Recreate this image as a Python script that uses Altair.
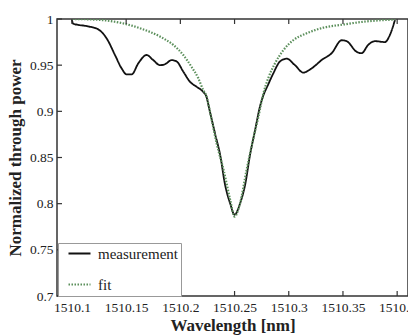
import altair as alt
import pandas as pd

meas_x = [1510.1000, 1510.1010, 1510.1150, 1510.1240, 1510.1320, 1510.1397, 1510.1458,
          1510.1505, 1510.1551, 1510.1612, 1510.1689, 1510.1750, 1510.1812, 1510.1858,
          1510.1920, 1510.1966, 1510.2027, 1510.2089, 1510.2150, 1510.2211, 1510.2240,
          1510.2270, 1510.2320, 1510.2370, 1510.2410, 1510.2460, 1510.2500, 1510.2550,
          1510.2600, 1510.2640, 1510.2690, 1510.2734, 1510.2765, 1510.2810, 1510.2857,
          1510.2919, 1510.2981, 1510.3057, 1510.3134, 1510.3211, 1510.3303, 1510.3396,
          1510.3488, 1510.3534, 1510.3626, 1510.3672, 1510.3733, 1510.3795, 1510.3887,
          1510.3934, 1510.3980]
meas_y = [0.999, 0.995, 0.992, 0.989, 0.979, 0.961, 0.9465,
          0.940, 0.940, 0.952, 0.961, 0.9555, 0.950, 0.951,
          0.9555, 0.954, 0.943, 0.932, 0.9266, 0.921, 0.916,
          0.901, 0.876, 0.851, 0.822, 0.800, 0.788, 0.800,
          0.822, 0.851, 0.880, 0.905, 0.917, 0.929, 0.941,
          0.954, 0.957, 0.950, 0.942, 0.9465, 0.9555, 0.963,
          0.977, 0.976, 0.9645, 0.963, 0.972, 0.976, 0.975,
          0.983, 0.999]

# fit
fit_x = [1510.1000, 1510.1258, 1510.1443, 1510.1627, 1510.1812, 1510.1934, 1510.2027,
         1510.2104, 1510.2165, 1510.2211, 1510.2236, 1510.2290, 1510.2335, 1510.2400,
         1510.2460, 1510.2500, 1510.2550, 1510.2610, 1510.2670, 1510.2720, 1510.2765,
         1510.2811, 1510.2873, 1510.2949, 1510.3041, 1510.3165, 1510.3318, 1510.3503,
         1510.3687, 1510.3980]
fit_y = [1.000, 0.999, 0.996, 0.990, 0.981, 0.972, 0.961,
         0.948, 0.936, 0.923, 0.918, 0.890, 0.865, 0.836,
         0.804, 0.786, 0.800, 0.836, 0.869, 0.894, 0.919,
         0.936, 0.952, 0.966, 0.977, 0.9845, 0.9906, 0.994,
         0.997, 0.9995]

x_ticks = [1510.1, 1510.15, 1510.2, 1510.25, 1510.3, 1510.35, 1510.4]
y_ticks = [0.7, 0.75, 0.8, 0.85, 0.9, 0.95, 1.0]
series_names = ["measurement", "fit"]
series_colors = ["#111111", "#5b8f5b"]

df = pd.concat([
    pd.DataFrame({"wl": meas_x, "p": meas_y, "series": series_names[0]}),
    pd.DataFrame({"wl": fit_x, "p": fit_y, "series": series_names[1]}),
])
xt = pd.DataFrame({"wl": x_ticks})
yt = pd.DataFrame({"p": y_ticks})

W, H = 351, 277
FONT = "'Liberation Serif', 'DejaVu Serif', serif"

xscale = alt.Scale(domain=[1510.0862, 1510.41], nice=False, zero=False)
yscale = alt.Scale(domain=[0.7, 1.0], nice=False, zero=False)

lines = alt.Chart(df).mark_line(clip=True, interpolate="monotone").encode(
    x=alt.X("wl:Q", scale=xscale,
            axis=alt.Axis(title="Wavelength [nm]", values=x_ticks, format=".2~f",
                          ticks=False, domain=False, grid=False, labelPadding=4,
                          labelFontSize=13.5, labelFont=FONT, labelColor="#222",
                          titleFont=FONT, titleFontSize=17, titleFontWeight="bold",
                          titleColor="#222", titlePadding=4, labelOverlap=False,
                          labelBound=False, labelFlush=False)),
    y=alt.Y("p:Q", scale=yscale,
            axis=alt.Axis(title="Normalized through power", values=y_ticks, format=".2~f",
                          ticks=False, domain=False, grid=False, labelPadding=4,
                          labelFontSize=13.5, labelFont=FONT, labelColor="#222",
                          titleFont=FONT, titleFontSize=17, titleFontWeight="bold",
                          titleColor="#222", titlePadding=5, labelOverlap=False)),
    color=alt.Color("series:N", scale=alt.Scale(domain=series_names, range=series_colors),
                    legend=alt.Legend(title=None, orient="none", legendX=1, legendY=224,
                                      symbolType="M-2,0H2", symbolSize=121, symbolStrokeWidth=1.8,
                                      symbolOffset=11, labelOffset=11,
                                      labelFont=FONT, labelFontSize=15, labelColor="#222",
                                      strokeColor="#999", fillColor="white", padding=3,
                                      rowPadding=15)),
    strokeDash=alt.StrokeDash("series:N",
                              scale=alt.Scale(domain=series_names, range=[[1, 0], [1.5, 1.5]]),
                              legend=None),
    strokeWidth=alt.StrokeWidth("series:N",
                                scale=alt.Scale(domain=series_names, range=[1.8, 2.2]),
                                legend=None),
)

tick_style = dict(color="#333", strokeWidth=1.2)
bt = alt.Chart(xt).mark_rule(**tick_style).encode(x="wl:Q", y=alt.value(H), y2=alt.value(H - 5))
tt = alt.Chart(xt).mark_rule(**tick_style).encode(x="wl:Q", y=alt.value(0), y2=alt.value(5))
lt = alt.Chart(yt).mark_rule(**tick_style).encode(y="p:Q", x=alt.value(0), x2=alt.value(5))

chart = alt.layer(lines, bt, tt, lt).properties(
    width=W, height=H,
    autosize=alt.AutoSizeParams(type="none"),
    padding={"left": 57, "top": 19, "right": 0, "bottom": 39},
).configure(
    background="white", font=FONT
).configure_view(
    stroke="#333", strokeWidth=1.5
).configure_legend(
    labelFont=FONT
).configure_axis(
    labelFont=FONT, titleFont=FONT
)

chart.save("out.html", embed_options={"renderer": "svg", "actions": False})
